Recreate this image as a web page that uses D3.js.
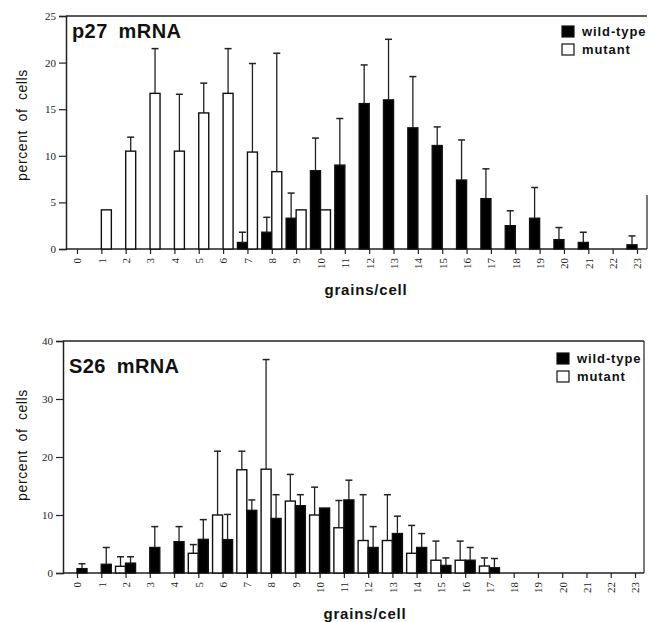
<!DOCTYPE html>
<html><head><meta charset="utf-8">
<script src="https://cdn.jsdelivr.net/npm/d3@7"></script>
<style>
html,body{margin:0;padding:0;background:#fff;}
svg{display:block;}
</style></head>
<body>
<svg id="chart" width="648" height="622"></svg>
<script>
// ---------- data ----------
const categories = ["0","1","2","3","4","5","6","7","8","9","10","11","12","13","14","15","16","17","18","19","20","21","22","23"];
const seriesNames = ["wild-type", "mutant"];

// p27 mRNA panel (values = percent of cells, err = top of error bar)
const p27Wild      = [0,0,0,0,0,0,0,0.7,1.8,3.3,8.4,9.0,15.6,16.0,13.0,11.1,7.4,5.4,2.5,3.3,1.0,0.7,0,0.45];
const p27WildErr   = [null,null,null,null,null,null,null,1.8,3.4,6.0,11.9,14.0,19.75,22.5,18.5,13.1,11.7,8.6,4.1,6.6,2.3,1.8,null,1.4];
const p27Mutant    = [0,4.2,10.5,16.7,10.5,14.6,16.7,10.4,8.3,4.2,4.2,0,0,0,0,0,0,0,0,0,0,0,0,0];
const p27MutantErr = [null,null,12.0,21.5,16.6,17.8,21.5,19.9,21.0,null,null,null,null,null,null,null,null,null,null,null,null,null,null,null];
const p27Ticks     = [0,5,10,15,20,25];

// S26 mRNA panel
const s26Wild      = [0.75,1.5,1.7,4.4,5.4,5.8,5.75,10.8,9.4,11.6,11.2,12.6,4.4,6.8,4.4,1.3,2.2,0.9,0,0,0,0,0,0];
const s26WildErr   = [1.6,4.4,2.8,8.0,8.0,9.2,10.1,12.6,13.5,13.5,null,16.0,8.0,9.8,6.8,2.6,4.4,2.5,null,null,null,null,null,null];
const s26Mutant    = [0,0,1.15,0,0,3.4,10.0,17.8,17.9,12.4,10.0,7.8,5.6,5.6,3.4,2.2,2.2,1.2,0,0,0,0,0,0];
const s26MutantErr = [null,null,2.8,null,null,4.9,21.0,21.0,36.8,17.0,14.8,12.5,13.5,13.5,8.2,5.5,5.5,2.6,null,null,null,null,null,null];
const s26Ticks     = [0,10,20,30,40];

// ---------- drawing ----------
const svg = d3.select("#chart");
const serif = "'Liberation Serif','DejaVu Serif',serif";
const sans = "'Liberation Sans',Arial,'Helvetica',sans-serif";

function panel(o){
  const g = svg.append("g");
  const x = d3.scalePoint().domain(categories).range([o.x0, o.x1]);
  const y = d3.scaleLinear().domain([0, o.ymax]).range([o.yBottom, o.yTop]);
  const bw = 10;

  // frame: top border and right border
  g.append("line").attr("x1", o.axisX).attr("x2", o.rightX).attr("y1", o.yTop).attr("y2", o.yTop)
    .attr("stroke","#222").attr("stroke-width",1.5);
  g.append("line").attr("x1", o.rightX).attr("x2", o.rightX).attr("y1", o.rightTop).attr("y2", o.yBottom)
    .attr("stroke","#222").attr("stroke-width",1.2);

  // y axis
  const ya = d3.axisLeft(y).tickValues(o.ticks).tickSize(7).tickPadding(3).tickFormat(d3.format("d"));
  const yg = g.append("g").attr("transform", `translate(${o.axisX},0)`).call(ya);
  yg.select(".domain").attr("stroke","#222").attr("stroke-width",1.5);
  yg.selectAll(".tick line").attr("stroke","#222").attr("stroke-width",1.2);
  yg.selectAll(".tick text").attr("font-family",serif).attr("font-size",11).attr("fill","#222");

  // x baseline + ticks
  g.append("line").attr("x1", o.axisX).attr("x2", o.rightX).attr("y1", o.yBottom).attr("y2", o.yBottom)
    .attr("stroke","#222").attr("stroke-width",1.5);
  const xa = d3.axisBottom(x).tickSize(5).tickSizeOuter(0);
  const xg = g.append("g").attr("transform", `translate(0,${o.yBottom})`).call(xa);
  xg.select(".domain").remove();
  xg.selectAll(".tick line").attr("stroke","#222").attr("stroke-width",1.2);
  xg.selectAll(".tick text")
    .attr("font-family",serif).attr("font-size",11).attr("fill","#222")
    .attr("text-anchor","end")
    .attr("transform","translate(0,9) rotate(-90)")
    .attr("x",0).attr("y",0).attr("dy","0.35em");

  // bars
  function bars(vals, errs, fill, side){
    const off = side === "left" ? -bw : 0;
    const data = categories.map((c,i)=>({c, v: vals[i], e: errs[i]}));
    const shown = data.filter(d => d.v > 0);
    g.selectAll(null).data(shown.filter(d=>d.e!=null)).enter().append("line")
      .attr("x1", d => x(d.c)+off+bw/2).attr("x2", d => x(d.c)+off+bw/2)
      .attr("y1", d => y(d.v)).attr("y2", d => y(d.e))
      .attr("stroke","#222").attr("stroke-width",1.3);
    g.selectAll(null).data(shown.filter(d=>d.e!=null)).enter().append("line")
      .attr("x1", d => x(d.c)+off+bw/2-3.5).attr("x2", d => x(d.c)+off+bw/2+3.5)
      .attr("y1", d => y(d.e)).attr("y2", d => y(d.e))
      .attr("stroke","#222").attr("stroke-width",1.5);
    g.selectAll(null).data(shown).enter().append("rect")
      .attr("x", d => x(d.c)+off).attr("width", bw)
      .attr("y", d => y(d.v)).attr("height", d => y(0)-y(d.v))
      .attr("fill", fill).attr("stroke","#111").attr("stroke-width",1.4);
  }
  if (o.wildSide === "left"){
    bars(o.wild, o.wildErr, "#000", "left");
    bars(o.mut, o.mutErr, "#fff", "right");
  } else {
    bars(o.mut, o.mutErr, "#fff", "left");
    bars(o.wild, o.wildErr, "#000", "right");
  }

  // title
  g.append("text").attr("x", o.titleX).attr("y", o.titleY).text(o.title)
    .attr("font-family",sans).attr("font-weight","bold").attr("font-size",20)
    .attr("word-spacing","5px").attr("letter-spacing","0.4px").attr("fill","#111");

  // axis titles
  g.append("text").attr("transform", `translate(27,${o.yLabelY}) rotate(-90)`)
    .attr("text-anchor","middle").text("percent of cells")
    .attr("font-family",sans).attr("font-size",14).attr("letter-spacing","0.6px")
    .attr("word-spacing","4px").attr("fill","#111");
  g.append("text").attr("x", o.xLabelX).attr("y", o.xLabelY).attr("text-anchor","middle")
    .text("grains/cell").attr("font-family",sans).attr("font-weight","bold").attr("font-size",15)
    .attr("letter-spacing","0.8px").attr("fill","#111");

  // legend
  const lg = g.append("g").attr("transform", `translate(${o.legX},${o.legY})`);
  seriesNames.forEach((n,i)=>{
    lg.append("rect").attr("x",0).attr("y", i*18).attr("width",12).attr("height",11)
      .attr("fill", i===0 ? "#000" : "#fff").attr("stroke","#111").attr("stroke-width",1.2);
    lg.append("text").attr("x",20).attr("y", i*18+10).text(n)
      .attr("font-family",sans).attr("font-weight","bold").attr("font-size",13)
      .attr("letter-spacing","0.9px").attr("fill","#111");
  });
}

panel({
  x0:77, x1:637, axisX:66, rightX:647, rightTop:195, yTop:16, yBottom:249, ymax:25,
  ticks:p27Ticks, wild:p27Wild, wildErr:p27WildErr, mut:p27Mutant, mutErr:p27MutantErr,
  wildSide:"left", title:"p27 mRNA", titleX:72, titleY:38,
  yLabelY:125, xLabelX:366, xLabelY:295, legX:562, legY:26
});
panel({
  x0:77, x1:635, axisX:63, rightX:644, rightTop:341, yTop:341, yBottom:573, ymax:40,
  ticks:s26Ticks, wild:s26Wild, wildErr:s26WildErr, mut:s26Mutant, mutErr:s26MutantErr,
  wildSide:"right", title:"S26 mRNA", titleX:69, titleY:373,
  yLabelY:445, xLabelX:365, xLabelY:619, legX:557, legY:353
});
</script>
</body></html>
